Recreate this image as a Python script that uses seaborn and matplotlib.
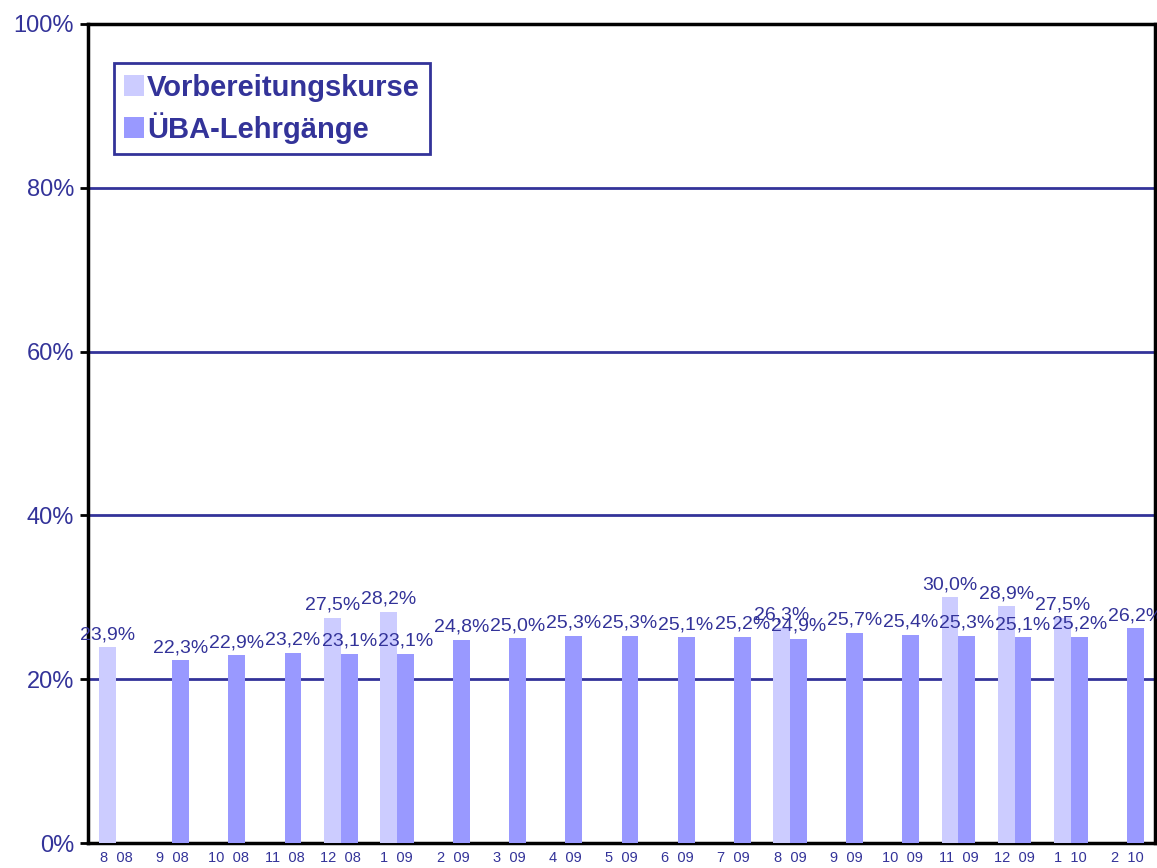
import numpy as np
import pandas as pd
import matplotlib
matplotlib.use("Agg")
import matplotlib.pyplot as plt
import seaborn as sns

categories = ["8  08", "9  08", "10  08", "11  08", "12  08", "1  09", "2  09", "3  09",
              "4  09", "5  09", "6  09", "7  09", "8  09", "9  09", "10  09", "11  09",
              "12  09", "1  10", "2  10"]
vorbereitung = [23.9, np.nan, np.nan, np.nan, 27.5, 28.2, np.nan, np.nan, np.nan, np.nan,
                np.nan, np.nan, 26.3, np.nan, np.nan, 30.0, 28.9, 27.5, np.nan]
uba = [np.nan, 22.3, 22.9, 23.2, 23.1, 23.1, 24.8, 25.0, 25.3, 25.3, 25.1, 25.2, 24.9,
       25.7, 25.4, 25.3, 25.1, 25.2, 26.2]
series_names = ["Vorbereitungskurse", "ÜBA-Lehrgänge"]
y_ticks = [0, 20, 40, 60, 80, 100]

df = pd.DataFrame({
    "Monat": categories * 2,
    "Wert": vorbereitung + uba,
    "Serie": [series_names[0]] * len(categories) + [series_names[1]] * len(categories),
})

sns.set_theme(style="white")
plt.rcParams["font.family"] = ["Liberation Sans", "DejaVu Sans"]

TXT = "#333399"
fig = plt.figure(figsize=(11.57, 8.68), dpi=100)
ax = fig.add_axes([88 / 1157, 1 - 843 / 868, (1155 - 88) / 1157, (843 - 24) / 868])

sns.barplot(data=df, x="Monat", y="Wert", hue="Serie", order=categories,
            hue_order=series_names, palette=["#CCCCFF", "#9999FF"], saturation=1,
            width=0.6, errorbar=None, ax=ax, zorder=3, linewidth=0, edgecolor="none")

for c in ax.containers:
    labels = []
    for v in c.datavalues:
        labels.append("" if np.isnan(v) else f"{v:.1f}%".replace(".", ","))
    ax.bar_label(c, labels=labels, padding=3, fontsize=14, color=TXT, zorder=5)

ax.set_xlim(-0.5, len(categories) - 0.5)
ax.set_ylim(0, 100)
ax.set_yticks(y_ticks)
ax.set_yticklabels([f"{t}%" for t in y_ticks], fontsize=17, color=TXT)
ax.set_xticks(range(len(categories)))
ax.set_xticklabels(categories, fontsize=10.5, color=TXT)
ax.set_xticks(np.arange(-0.5, len(categories), 1.0), minor=True)
ax.tick_params(axis="x", which="major", length=0, pad=6)
ax.tick_params(axis="x", which="minor", length=5, width=2, color="black", direction="out")
ax.tick_params(axis="y", which="major", length=6, width=2, color="black", direction="out",
               left=True, pad=4)
ax.set_xlabel("")
ax.set_ylabel("")

for y in [20, 40, 60, 80]:
    ax.axhline(y, color=TXT, lw=2, zorder=1)

for s in ax.spines.values():
    s.set_visible(True)
    s.set_color("black")
    s.set_linewidth(2.5)

leg = ax.legend(loc="upper left", bbox_to_anchor=(0.024, 0.952), borderaxespad=0,
                fancybox=False, frameon=True, framealpha=1, handlelength=0.7,
                handleheight=0.7, handletextpad=0.1, labelspacing=0.35, borderpad=0.35,
                prop={"size": 21, "weight": "bold"})
leg.get_frame().set_edgecolor(TXT)
leg.get_frame().set_linewidth(2)
for t in leg.get_texts():
    t.set_color(TXT)

fig.savefig("out.png", dpi=100)
